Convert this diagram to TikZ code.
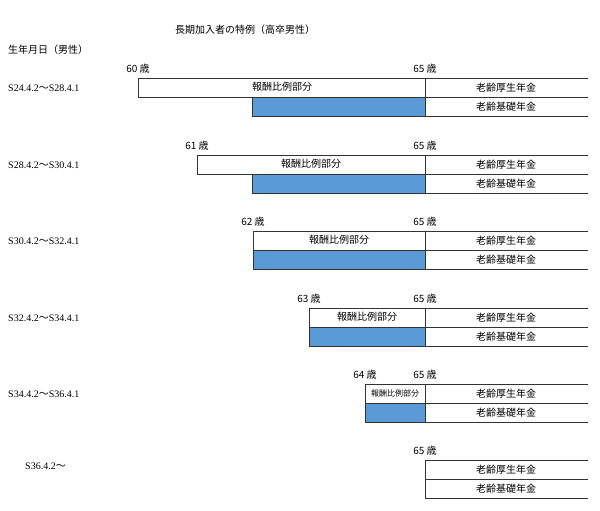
\documentclass[tikz,border=0pt]{standalone}
\usepackage{fontspec}
\setmainfont{Liberation Serif}
\newfontfamily\jpfont{Noto Sans CJK JP}
\usetikzlibrary{positioning}
\definecolor{cellblue}{RGB}{91,155,213}
\newcommand\wavedash{{\jpfont 〜}}
\tikzset{
  jp/.style={font=\jpfont\fontsize{10}{12}\selectfont, inner sep=0pt},
  dt/.style={font=\fontsize{10}{12}\selectfont, inner sep=0pt, anchor=west},
  cell/.style={draw=black!80, line width=0.7pt},
}
\begin{document}
\begin{tikzpicture}[x=1pt,y=-1pt]
\useasboundingbox (0,0) rectangle (600,511);
\draw (245,30) node[jp] (title) {長期加入者の特例（高卒男性）};
\draw (8,50) node[jp,anchor=west] (head) {生年月日（男性）};
% rows: top y / left x / blue x / age / label
\foreach \y/\l/\b/\a/\d [count=\i] in {78/138/252/60/S24.4.2\wavedash S28.4.1,155/197/252/61/S28.4.2\wavedash S30.4.1,231/253/253/62/S30.4.2\wavedash S32.4.1,308/309/309/63/S32.4.2\wavedash S34.4.1,384/365/365/64/S34.4.2\wavedash S36.4.1}{
  \draw (8,\y+10) node[dt] (date\i) {\d};
  \draw (\l,\y-9) node[jp] (age\i) {\a{} 歳};
  \draw (425,\y-9) node[jp] (end\i) {65 歳};
  \draw[cell] (\l,\y) rectangle (425,\y+19);
  \fill[cellblue] (\b,\y+19) rectangle (425,\y+38);
  \draw[cell] (\b,\y+19) rectangle (425,\y+38);
  \draw[cell] (588,\y) -- (425,\y) -- (425,\y+38) -- (588,\y+38);
  \draw[cell] (425,\y+19) -- (588,\y+19);
  \draw (506,\y+9.5) node[jp] (kosei\i) {老齢厚生年金};
  \draw (506,\y+28.5) node[jp] (kiso\i) {老齢基礎年金};
}
\draw (282,87) node[jp] (hou1) {報酬比例部分};
\draw (311,164) node[jp] (hou2) {報酬比例部分};
\draw (339,240) node[jp] (hou3) {報酬比例部分};
\draw (367,317) node[jp] (hou4) {報酬比例部分};
\draw (395,393) node[jp,font=\jpfont\fontsize{8}{9}\selectfont] (hou5) {報酬比例部分};
% last row
\draw (25,466) node[dt] (date6) {S36.4.2\wavedash};
\draw (425,451) node[jp] (end6) {65 歳};
\draw[cell] (588,460) -- (425,460) -- (425,498) -- (588,498);
\draw[cell] (425,479) -- (588,479);
\draw (506,469.5) node[jp] (kosei6) {老齢厚生年金};
\draw (506,488.5) node[jp] (kiso6) {老齢基礎年金};
\end{tikzpicture}
\end{document}
